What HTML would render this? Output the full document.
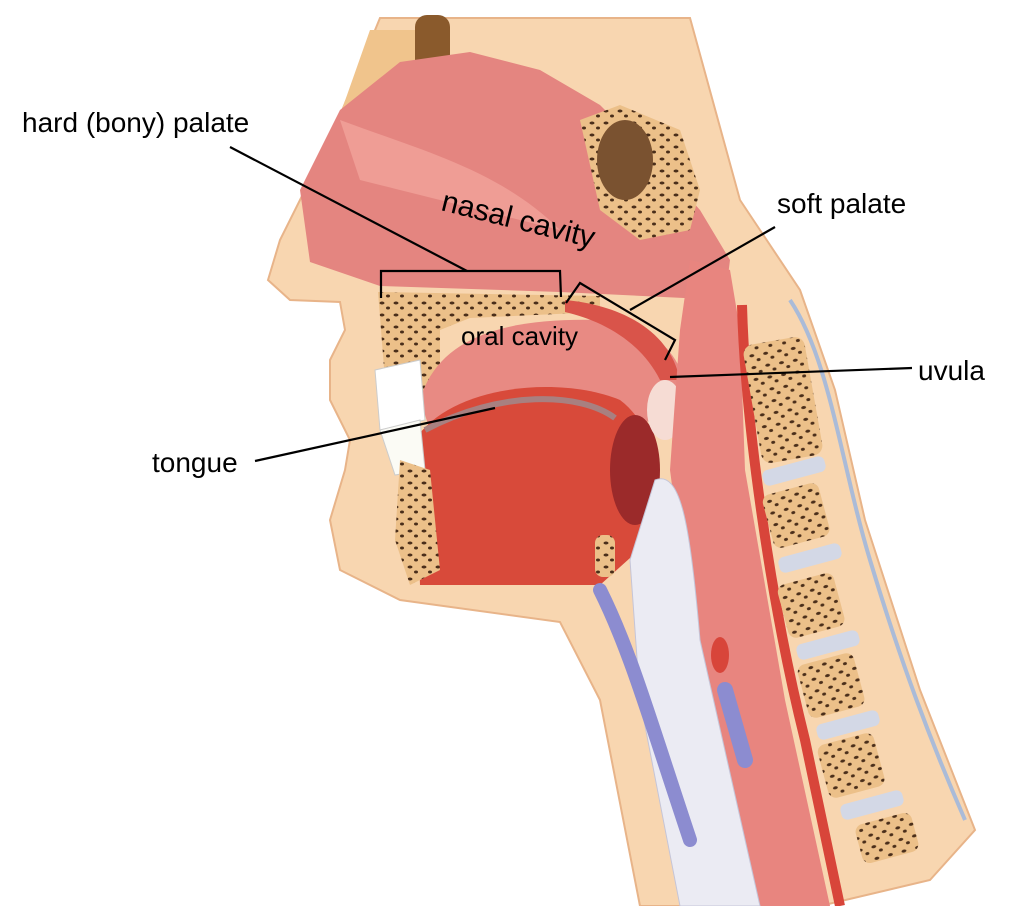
<!DOCTYPE html>
<html><head><meta charset="utf-8"><style>
html,body{margin:0;padding:0;background:#fff;}
svg{display:block;}
text{font-family:"Liberation Sans",sans-serif;fill:#000;}
</style></head><body>
<svg width="1024" height="906" viewBox="0 0 1024 906" xmlns="http://www.w3.org/2000/svg">
<defs>
<pattern id="sp" width="14" height="12" patternUnits="userSpaceOnUse">
<rect width="14" height="12" fill="#ecc089"/>
<ellipse cx="4" cy="3" rx="2.5" ry="1.5" fill="#4a2e1a"/>
<ellipse cx="10" cy="8" rx="2" ry="1.5" fill="#4a2e1a"/>
</pattern>
</defs>
<path d="M380,18 L690,18 L740,200 L800,290 L835,390 L865,520 L920,690 L975,830 L930,880 L820,906 L640,906 L600,700 L560,622 L400,600 L340,570 L330,520 L345,470 L350,440 L330,400 L330,360 L345,330 L340,302 L290,300 L268,280 L280,240 L330,140 Z" fill="#f8d6b0" stroke="#e8b489" stroke-width="2"/>
<path d="M790,300 C830,360 840,460 870,560 C900,660 930,740 965,820" fill="none" stroke="#aabbd8" stroke-width="4"/>
<path d="M370,30 L440,30 L450,80 L380,120 L330,170 L310,200 Z" fill="#f0c48c"/>
<rect x="415" y="15" width="35" height="70" rx="12" fill="#8a5a2c"/>
<path d="M310,262 L300,190 L340,110 L400,62 L470,52 L540,70 L600,105 L655,160 L700,210 L730,260 L725,300 L560,292 L380,286 Z" fill="#e48580"/>
<path d="M340,120 C420,150 500,170 560,230 C520,220 440,200 360,180 Z" fill="#ef9d95"/>
<path d="M580,120 L620,105 L680,130 L700,190 L690,230 L640,240 L600,210 Z" fill="url(#sp)"/>
<ellipse cx="625" cy="160" rx="28" ry="40" fill="#7a5230"/>
<path d="M378,292 L600,296 L600,312 L470,318 L440,330 L440,390 L420,400 L385,380 Z" fill="url(#sp)"/>
<path d="M420,400 C440,330 520,318 600,320 C660,325 690,360 690,420 L430,430 Z" fill="#e88a83"/>
<path d="M565,300 C620,305 670,330 680,380 L660,380 C640,340 600,320 565,312 Z" fill="#d9544a"/>
<path d="M415,440 C450,385 560,375 620,400 C660,430 670,500 650,540 L600,585 L420,585 Z" fill="#d84a3a"/>
<path d="M425,430 C500,390 580,392 615,418" fill="none" stroke="#a88080" stroke-width="6"/>
<ellipse cx="635" cy="470" rx="25" ry="55" fill="#9b2a2a"/>
<ellipse cx="665" cy="410" rx="18" ry="30" fill="#f6dcd4"/>
<path d="M375,370 L420,360 L425,420 L380,430 Z" fill="#fff" stroke="#ccc"/>
<path d="M380,430 L420,420 L425,470 L395,475 Z" fill="#fbfbf5" stroke="#ccc"/>
<path d="M400,460 L430,470 L440,570 L410,585 L395,540 Z" fill="url(#sp)"/>
<rect x="595" y="535" width="20" height="42" rx="8" fill="url(#sp)"/>
<path d="M690,260 L730,270 L740,330 L745,470 L785,700 L830,906 L760,906 L700,700 L670,470 L680,330 Z" fill="#e8857f"/>
<path d="M655,480 C680,470 690,520 700,640 L760,906 L680,906 L640,700 L630,560 Z" fill="#ebebf3" stroke="#c5c5d8"/>
<path d="M742,305 C745,420 770,600 805,740 L840,906" fill="none" stroke="#d8453a" stroke-width="10"/>
<path d="M600,590 C630,650 650,720 690,840" fill="none" stroke="#8c8cd0" stroke-width="14" stroke-linecap="round"/>
<ellipse cx="720" cy="655" rx="9" ry="18" fill="#d8453a"/>
<path d="M725,690 L745,760" stroke="#8c8cd0" stroke-width="16" stroke-linecap="round"/>
<!-- spine -->
<g>
<rect x="752" y="340" width="62" height="120" rx="10" fill="url(#sp)" transform="rotate(-10 783 400)"/>
<rect x="762" y="463" width="64" height="16" rx="6" fill="#d3d8e6" transform="rotate(-15 794 471)"/>
<rect x="767" y="488" width="58" height="55" rx="8" fill="url(#sp)" transform="rotate(-15 796 515)"/>
<rect x="778" y="550" width="64" height="16" rx="6" fill="#d3d8e6" transform="rotate(-15 810 558)"/>
<rect x="782" y="578" width="58" height="55" rx="8" fill="url(#sp)" transform="rotate(-15 811 605)"/>
<rect x="796" y="637" width="64" height="16" rx="6" fill="#d3d8e6" transform="rotate(-15 828 645)"/>
<rect x="802" y="658" width="58" height="55" rx="8" fill="url(#sp)" transform="rotate(-15 831 685)"/>
<rect x="816" y="717" width="64" height="16" rx="6" fill="#d3d8e6" transform="rotate(-15 848 725)"/>
<rect x="822" y="738" width="58" height="55" rx="8" fill="url(#sp)" transform="rotate(-15 851 765)"/>
<rect x="840" y="797" width="64" height="16" rx="6" fill="#d3d8e6" transform="rotate(-15 872 805)"/>
<rect x="858" y="818" width="58" height="40" rx="8" fill="url(#sp)" transform="rotate(-15 887 838)"/>
</g>
<g fill="none" stroke="#000" stroke-width="2.2">
<line x1="230" y1="147" x2="467" y2="271"/>
<polyline points="381,298 381,271 560,271 561,297"/>
<polyline points="566,303 580,283 675,340 665,360"/>
<line x1="630" y1="310" x2="775" y2="227"/>
<line x1="670" y1="377" x2="912" y2="368"/>
<line x1="255" y1="461" x2="495" y2="408"/>
</g>
<text x="22" y="132" font-size="28">hard (bony) palate</text>
<text x="440" y="210" font-size="30" transform="rotate(14 440 210)">nasal cavity</text>
<text x="777" y="213" font-size="28">soft palate</text>
<text x="461" y="345" font-size="26">oral cavity</text>
<text x="918" y="380" font-size="28">uvula</text>
<text x="152" y="472" font-size="28">tongue</text>
</svg>
</body></html>
